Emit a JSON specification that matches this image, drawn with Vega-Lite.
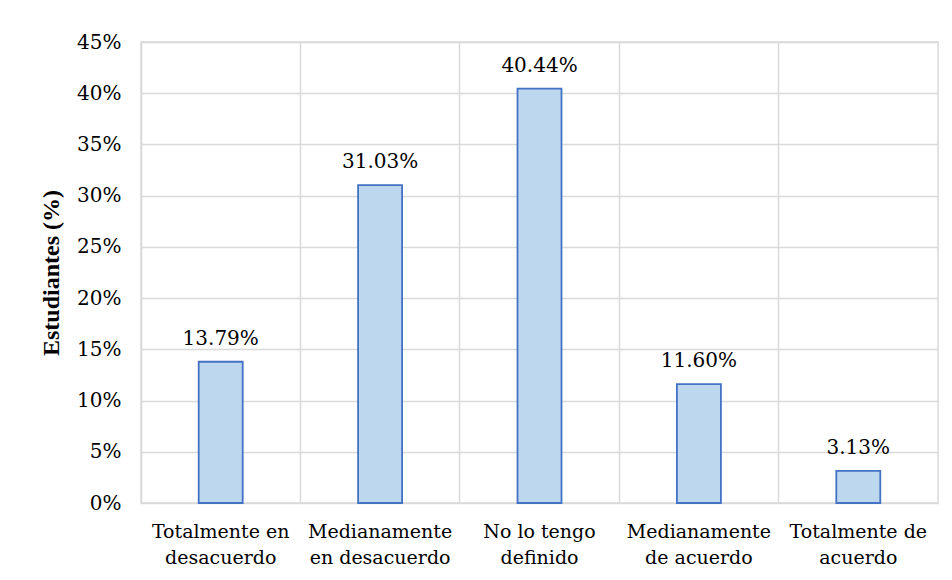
{
  "$schema": "https://vega.github.io/schema/vega-lite/v6.json",
  "width": 797,
  "height": 461,
  "autosize": {"type": "none"},
  "padding": {"left": 141, "top": 42, "right": 14, "bottom": 77},
  "background": "white",
  "config": {
    "font": "DejaVu Serif",
    "view": {"stroke": "#d9d9d9", "strokeWidth": 1.5},
    "axis": {"labelFont": "DejaVu Serif", "titleFont": "Liberation Serif", "labelColor": "#000000", "titleColor": "#000000", "gridColor": "#d9d9d9", "gridWidth": 1.5}
  },
  "data": {
    "values": [
      {"cat": "Totalmente en|desacuerdo", "v": 0.1379},
      {"cat": "Medianamente|en desacuerdo", "v": 0.3103},
      {"cat": "No lo tengo|definido", "v": 0.4044},
      {"cat": "Medianamente|de acuerdo", "v": 0.1160},
      {"cat": "Totalmente de|acuerdo", "v": 0.0313}
    ]
  },
  "encoding": {
    "x": {
      "field": "cat", "type": "nominal", "sort": null,
      "scale": {"paddingInner": 0, "paddingOuter": 0},
      "axis": {
        "title": null, "labelAngle": 0, "labelFontSize": 19, "labelPadding": 19,
        "labelExpr": "split(datum.label, '|')", "labelLineHeight": 26,
        "ticks": false, "domain": false, "grid": true, "bandPosition": 0
      }
    },
    "y": {
      "field": "v", "type": "quantitative",
      "scale": {"domain": [0, 0.45], "nice": false},
      "axis": {
        "title": "Estudiantes (%)", "titleFontSize": 24, "titleFontWeight": "bold", "titlePadding": 13,
        "format": ".0%", "values": [0, 0.05, 0.1, 0.15, 0.2, 0.25, 0.3, 0.35, 0.4, 0.45],
        "labelFontSize": 20, "labelPadding": 20, "ticks": false, "domain": false, "grid": true
      }
    }
  },
  "layer": [
    {
      "mark": {"type": "bar", "width": {"band": 0.276}, "fill": "#bdd7ee", "stroke": "#4472c4", "strokeWidth": 1.8}
    },
    {
      "mark": {"type": "text", "font": "DejaVu Serif", "fontSize": 20, "baseline": "alphabetic", "dy": -17, "color": "#000000"},
      "encoding": {"text": {"field": "v", "type": "quantitative", "format": ".2%"}}
    }
  ]
}
